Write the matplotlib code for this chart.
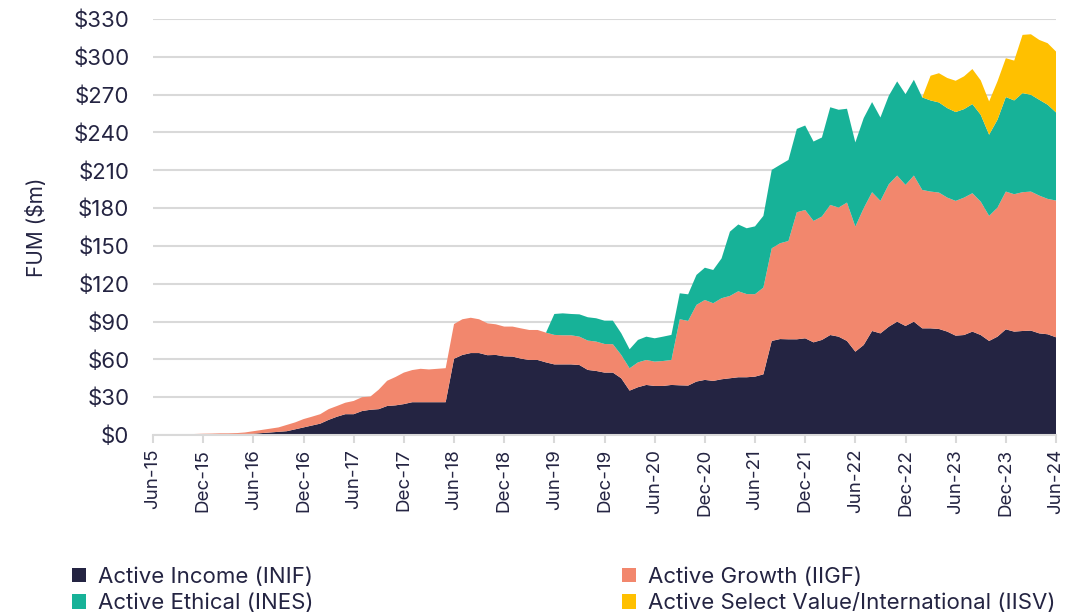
import numpy as np
import pandas as pd
import matplotlib
matplotlib.use("Agg")
import matplotlib.pyplot as plt

plt.rcParams["font.family"] = ["Inter", "DejaVu Sans"]

# Monthly FUM ($m), Jun-15 .. Jun-24
months = pd.date_range("2015-06-01", "2024-06-01", freq="MS")

income = [0, 0, 0, 0, 0.2, 0.3, 0.4, 0.5, 0.6, 0.7, 0.8, 0.9,
          1.0, 1.5, 2, 2.5, 3, 4.5, 6, 7.5, 9, 12, 14.5, 16.5,
          16.5, 19, 20, 20.5, 23, 23.5, 24.5, 26, 26, 26, 26, 26,
          60.5, 63.5, 65, 65, 63.3, 63.5, 62.4, 62.2, 60.6, 59.5, 59.5, 57.6,
          56, 56, 56, 55.5, 51.6, 50.8, 49.5, 49.5, 45, 35.2, 37.9, 39.7,
          38.9, 38.9, 39.7, 39.4, 39.2, 42.4, 43.7, 42.9, 44.2, 45, 45.8, 45.8,
          46.3, 48.1, 74.6, 76.1, 75.9, 75.9, 76.7, 73.5, 75.4, 79.3, 78, 74.6,
          66.1, 71.4, 82.5, 80.6, 85.9, 89.9, 86.5, 89.9, 84.6, 84.6, 84.1, 82,
          78.8, 79.3, 82, 79.3, 74.6, 78, 83.8, 82, 82.5, 82.8, 80.6, 79.9,
          77.5]

growth = [0, 0, 0, 0, 0.3, 0.5, 0.6, 0.6, 0.7, 0.6, 0.7, 1.1,
          2, 2.5, 3, 3.5, 5, 5.5, 6.6, 7, 7.5, 8.5, 8.5, 9.1,
          10.5, 11, 10.5, 15.5, 20, 22.5, 25, 25.5, 26.5, 26, 26.5, 27,
          27.5, 28.3, 28, 26.8, 25.3, 24.3, 23.6, 23.8, 24, 23.8, 23.8, 23.6,
          23.4, 23.1, 23.1, 22.5, 23.3, 23.3, 22.7, 22.5, 18.5, 17.7, 19.7, 19.8,
          19.3, 19.8, 19.8, 52.4, 51.3, 60.8, 63.4, 61.6, 64.3, 65.3, 68.2, 66,
          65.4, 68.8, 73.5, 76, 78, 100.8, 101.8, 96.3, 97.9, 103.2, 102.4, 109.8,
          99.2, 108.5, 110.1, 105.1, 113, 115.9, 111.9, 115.9, 109.8, 108.5, 108.2, 106.3,
          106.9, 109, 109.8, 105.8, 99.2, 102.4, 109.3, 109, 110.1, 110.3, 109.3, 107.4,
          108.5]

# fund launched Jun-19
ethical = [0.0] * 48 + [
    16.6, 17.4, 16.9, 17.7, 18.5, 18.5, 18.5, 18.7, 17.2, 15.1, 17.8, 18.5,
    18.5, 19.3, 19.9, 20.6, 21.1, 23.8, 25.6, 26.4, 31.6, 51, 53, 52.2,
    53.8, 56.9, 62.2, 62.2, 64.3, 66.1, 67, 63, 62.7, 77.5, 77.6, 74.4,
    66.8, 71.5, 71.5, 66.2, 70.2, 74.7, 72, 76, 73.4, 72.3, 71.5, 71,
    70.5, 70.2, 70.7, 68.9, 64.4, 69.7, 75, 74.4, 78.6, 76.8, 76, 74.7,
    69.9]

# fund launched Mar-23
isv = [0.0] * 93 + [
    19.6, 23.2, 23.9, 24.8, 26, 27.8, 27.3, 26.4, 30.4, 30.8, 31.6, 46.2,
    48, 47.5, 48.8, 48.3]

labels = ["Active Income (INIF)", "Active Growth (IIGF)",
          "Active Ethical (INES)", "Active Select Value/International (IISV)"]
colors = ["#242442", "#f2876d", "#17b298", "#ffc000"]
text_col = "#242442"

x = np.arange(len(months))

fig = plt.figure(figsize=(10.71, 6.13), dpi=100)
ax = fig.add_axes([0.1429, 0.2904, 0.8431, 0.6786])

polys = ax.stackplot(x, income, growth, ethical, isv, colors=colors, linewidth=0)

ax.set_xlim(0, len(months) - 1)
ax.set_ylim(0, 330)
ax.set_yticks(np.arange(0, 331, 30))
ax.set_yticklabels([f"${v}" for v in range(0, 331, 30)])
tick_idx = x[::6]
ax.set_xticks(tick_idx)
ax.set_xticklabels([months[i].strftime("%b-%y") for i in tick_idx], rotation=90)

ax.grid(axis="y", color="#d9d9d9", linewidth=1.5)
ax.set_axisbelow(True)
for s in ["top", "right", "left"]:
    ax.spines[s].set_visible(False)
ax.spines["bottom"].set_color("#d9d9d9")
ax.spines["bottom"].set_linewidth(1.5)
ax.tick_params(axis="y", length=0, labelsize=16, colors=text_col, pad=17)
ax.tick_params(axis="x", length=6, width=1.5, color="#d9d9d9", labelsize=13.5,
               labelcolor=text_col, pad=4)
ax.set_ylabel("FUM ($m)", fontsize=15, color=text_col, labelpad=19)

# legend: row-major order -> Income, Growth / Ethical, ISV
order = [0, 2, 1, 3]
fig.legend([polys[i] for i in order], [labels[i] for i in order],
           ncol=2, loc="upper left", bbox_to_anchor=(0.067, 0.075),
           frameon=False, fontsize=16, handlelength=0.62, handleheight=0.62,
           handletextpad=0.55, columnspacing=13.9, labelspacing=0.28,
           borderaxespad=0, borderpad=0, labelcolor=text_col)

fig.savefig("out.png", dpi=100)
